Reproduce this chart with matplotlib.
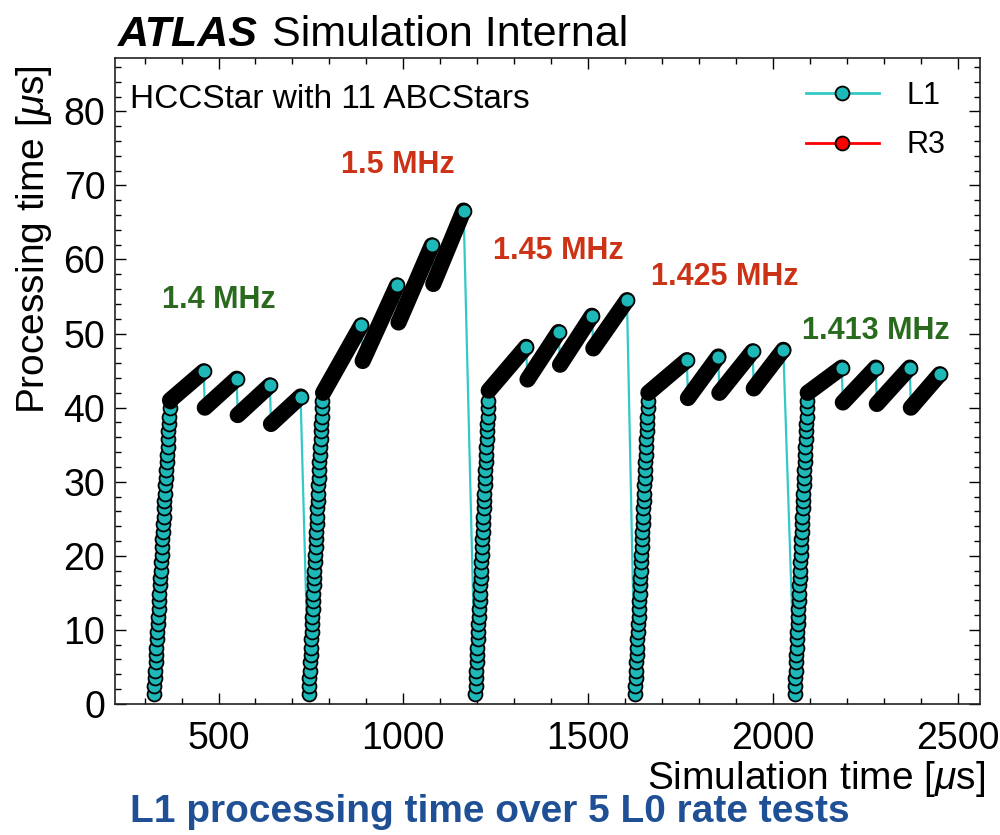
import numpy as np
import matplotlib.pyplot as plt
from matplotlib.lines import Line2D
from matplotlib.ticker import MultipleLocator

plt.rcParams['font.family'] = ['Liberation Sans', 'DejaVu Sans']
plt.rcParams['mathtext.fontset'] = 'custom'
plt.rcParams['mathtext.rm'] = 'Liberation Sans'
plt.rcParams['mathtext.it'] = 'Liberation Sans:italic'
plt.rcParams['mathtext.bf'] = 'Liberation Sans:bold'

# processing time while the buffer fills up (same for every test)
ramp_y = [1.4, 2.4, 3.5, 4.5, 5.6, 6.6, 7.6, 8.7, 9.7, 10.8,
          11.8, 12.8, 13.9, 14.9, 16.0, 17.0, 18.0, 19.1, 20.1, 21.2,
          22.2, 23.2, 24.3, 25.3, 26.4, 27.4, 28.4, 29.5, 30.5, 31.6,
          32.6, 33.6, 34.7, 35.7, 36.8, 37.8, 38.8, 39.9, 40.9]

ramp_t_14 = [325.0, 326.2, 327.3, 328.5, 329.6, 330.8, 331.9, 333.1, 334.3, 335.4,
             336.6, 337.7, 338.9, 340.1, 341.2, 342.4, 343.5, 344.7, 345.8, 347.0,
             348.2, 349.3, 350.5, 351.6, 352.8, 353.9, 355.1, 356.3, 357.4, 358.6,
             359.7, 360.9, 362.1, 363.2, 364.4, 365.5, 366.7, 367.8, 369.0]
ramp_t_15 = [744.0, 745.0, 745.9, 746.9, 747.9, 748.9, 749.8, 750.8, 751.8, 752.8,
             753.7, 754.7, 755.7, 756.7, 757.6, 758.6, 759.6, 760.6, 761.5, 762.5,
             763.5, 764.5, 765.4, 766.4, 767.4, 768.4, 769.3, 770.3, 771.3, 772.3,
             773.2, 774.2, 775.2, 776.2, 777.1, 778.1, 779.1, 780.1, 781.0]
ramp_t_145 = [1195.0, 1195.9, 1196.8, 1197.8, 1198.7, 1199.6, 1200.5, 1201.4, 1202.4, 1203.3,
              1204.2, 1205.1, 1206.1, 1207.0, 1207.9, 1208.8, 1209.7, 1210.7, 1211.6, 1212.5,
              1213.4, 1214.3, 1215.3, 1216.2, 1217.1, 1218.0, 1218.9, 1219.9, 1220.8, 1221.7,
              1222.6, 1223.6, 1224.5, 1225.4, 1226.3, 1227.2, 1228.2, 1229.1, 1230.0]
ramp_t_1425 = [1627.0, 1627.9, 1628.8, 1629.8, 1630.7, 1631.6, 1632.5, 1633.4, 1634.4, 1635.3,
               1636.2, 1637.1, 1638.1, 1639.0, 1639.9, 1640.8, 1641.7, 1642.7, 1643.6, 1644.5,
               1645.4, 1646.3, 1647.3, 1648.2, 1649.1, 1650.0, 1650.9, 1651.9, 1652.8, 1653.7,
               1654.6, 1655.6, 1656.5, 1657.4, 1658.3, 1659.2, 1660.2, 1661.1, 1662.0]
ramp_t_1413 = [2059.0, 2059.9, 2060.8, 2061.7, 2062.6, 2063.5, 2064.4, 2065.3, 2066.2, 2067.1,
               2068.0, 2068.8, 2069.7, 2070.6, 2071.5, 2072.4, 2073.3, 2074.2, 2075.1, 2076.0,
               2076.9, 2077.8, 2078.7, 2079.6, 2080.5, 2081.4, 2082.3, 2083.2, 2084.1, 2085.0,
               2085.9, 2086.8, 2087.7, 2088.6, 2089.5, 2090.4, 2091.3, 2092.2, 2093.1]

# saw teeth after saturation: (t start, y start, t end, y end), densely sampled
teeth_14 = [(369, 41.0, 460, 44.9), (463, 40.0, 549, 43.9),
            (552, 39.0, 639, 43.0), (642, 37.8, 722, 41.5)]
teeth_15 = [(783, 42.0, 886, 51.1), (890, 46.3, 983, 56.5),
            (987, 51.5, 1077, 61.9), (1081, 56.7, 1163, 66.6)]
teeth_145 = [(1231, 42.3, 1332, 48.2), (1336, 43.8, 1420, 50.2),
             (1424, 45.8, 1510, 52.4), (1514, 48.0, 1605, 54.5)]
teeth_1425 = [(1663, 42.0, 1767, 46.4), (1770, 41.3, 1852, 46.9),
              (1855, 42.0, 1945, 47.6), (1948, 42.6, 2028, 47.8)]
teeth_1413 = [(2094, 42.0, 2186, 45.4), (2189, 40.7, 2278, 45.4),
              (2281, 40.5, 2370, 45.4), (2373, 40.0, 2451, 44.5)]

rates = ['1.4 MHz', '1.5 MHz', '1.45 MHz', '1.425 MHz', '1.413 MHz']

ramps_t = [ramp_t_14, ramp_t_15, ramp_t_145, ramp_t_1425, ramp_t_1413]
teeth_all = [teeth_14, teeth_15, teeth_145, teeth_1425, teeth_1413]
rate_colors = ['#2a6a1f', '#cc3316', '#cc3316', '#cc3316', '#2a6a1f']
label_xy = [(500, 54.5), (984, 72.7), (1419, 61.2), (1870, 57.6), (2278, 50.4)]

cyan_line = '#33c9c9'
cyan_face = '#1fb8b8'
ms, mew = 10, 1.3

fig = plt.figure(figsize=(10, 8.35), dpi=100)
ax = fig.add_axes([0.115, 0.157, 0.865, 0.7735])

# connecting line in time order
path_t, path_y = [], []
for rt, teeth in zip(ramps_t, teeth_all):
    path_t += rt
    path_y += ramp_y
    for t0, y0, t1, y1 in teeth:
        path_t += [t0, t1]
        path_y += [y0, y1]
ax.plot(path_t, path_y, color=cyan_line, lw=1.6, zorder=2)

for rt, teeth in zip(ramps_t, teeth_all):
    ax.plot(rt, ramp_y, ls='none', marker='o', ms=ms, mfc=cyan_face,
            mec='black', mew=mew, zorder=3)
    for t0, y0, t1, y1 in teeth:
        ax.plot([t0, t1], [y0, y1], color='black', lw=ms + mew + 0.4,
                solid_capstyle='round', zorder=4)
    ax.plot([tt[2] for tt in teeth], [tt[3] for tt in teeth], ls='none',
            marker='o', ms=ms, mfc=cyan_face, mec='black', mew=mew, zorder=5)

for txt, col, (tx, ty) in zip(rates, rate_colors, label_xy):
    ax.text(tx, ty, txt, color=col, fontsize=22, fontweight='bold',
            ha='center', va='center')

ax.set_xlim(220, 2560)
ax.set_ylim(0, 87.2)
ax.xaxis.set_major_locator(MultipleLocator(500))
ax.xaxis.set_minor_locator(MultipleLocator(100))
ax.yaxis.set_major_locator(MultipleLocator(10))
ax.yaxis.set_minor_locator(MultipleLocator(2))
ax.tick_params(which='both', direction='in', top=True, right=True, width=1.0)
ax.tick_params(which='major', length=8, labelsize=27)
ax.tick_params(which='minor', length=4.5)
ax.tick_params(axis='x', pad=12)
ax.tick_params(axis='y', pad=7)
for sp in ax.spines.values():
    sp.set_linewidth(1.2)
    sp.set_color('#222222')

ax.set_xlabel(r'Simulation time [$\mu$s]', fontsize=28, loc='right')
ax.xaxis.set_label_coords(1.006, -0.086)
ax.set_ylabel(r'Processing time [$\mu$s]', fontsize=28, loc='top')
ax.yaxis.set_label_coords(-0.07, 0.989)

ax.text(0.0173, 0.9226, 'HCCStar with 11 ABCStars', transform=ax.transAxes,
        fontsize=24, va='baseline', ha='left')

handles = [
    Line2D([], [], color=cyan_line, lw=2, marker='o', ms=ms, mfc=cyan_face,
           mec='black', mew=mew, label='L1'),
    Line2D([], [], color='red', lw=2, marker='o', ms=ms, mfc='red',
           mec='black', mew=mew, label='R3'),
]
ax.legend(handles=handles, loc='upper right', bbox_to_anchor=(0.96, 0.965),
          frameon=False, fontsize=22, handlelength=2.4, handletextpad=0.9,
          labelspacing=0.65, borderaxespad=0, borderpad=0)

fig.text(0.118, 0.9449, 'ATLAS', fontsize=31, fontweight='bold',
         fontstyle='italic', va='baseline')
fig.text(0.272, 0.9449, 'Simulation Internal', fontsize=31, va='baseline')
fig.text(0.13, 0.016, 'L1 processing time over 5 L0 rate tests', fontsize=28,
         fontweight='bold', color='#1f4f94', va='baseline')

fig.savefig('out.png', dpi=100)
